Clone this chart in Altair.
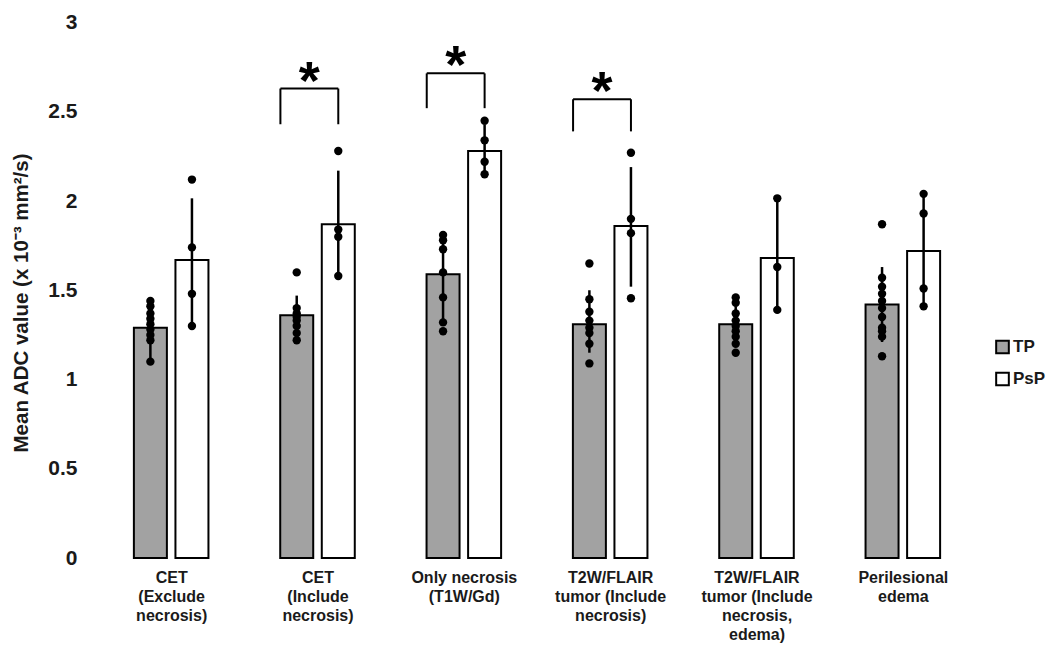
import json
import altair as alt
import pandas as pd

# ---------------- data ----------------
GROUP_LABELS = [
    ["CET", "(Exclude", "necrosis)"],
    ["CET", "(Include", "necrosis)"],
    ["Only necrosis", "(T1W/Gd)"],
    ["T2W/FLAIR", "tumor (Include", "necrosis)"],
    ["T2W/FLAIR", "tumor (Include", "necrosis,", "edema)"],
    ["Perilesional", "edema"],
]
SERIES = ["TP", "PsP"]

TP_MEAN = [1.29, 1.36, 1.59, 1.31, 1.31, 1.42]
PSP_MEAN = [1.67, 1.87, 2.28, 1.86, 1.68, 1.72]

TP_ERR_LO = [1.10, 1.24, 1.30, 1.15, 1.21, 1.21]
TP_ERR_HI = [1.445, 1.47, 1.81, 1.50, 1.41, 1.63]
PSP_ERR_LO = [1.30, 1.58, 2.15, 1.52, 1.39, 1.41]
PSP_ERR_HI = [2.015, 2.17, 2.43, 2.19, 2.015, 2.04]

TP_POINTS = [
    [1.44, 1.41, 1.37, 1.34, 1.31, 1.28, 1.25, 1.22, 1.10],
    [1.60, 1.40, 1.37, 1.35, 1.33, 1.30, 1.26, 1.22],
    [1.81, 1.78, 1.73, 1.60, 1.46, 1.32, 1.27],
    [1.65, 1.45, 1.38, 1.33, 1.29, 1.26, 1.20, 1.09],
    [1.46, 1.43, 1.37, 1.33, 1.30, 1.27, 1.24, 1.20, 1.15],
    [1.87, 1.57, 1.52, 1.48, 1.44, 1.40, 1.35, 1.29, 1.27, 1.24, 1.13],
]
PSP_POINTS = [
    [2.12, 1.74, 1.48, 1.30],
    [2.28, 1.84, 1.80, 1.58],
    [2.45, 2.34, 2.22, 2.15],
    [2.27, 1.90, 1.82, 1.455],
    [2.015, 1.63, 1.39],
    [2.04, 1.93, 1.51, 1.41],
]

SIG_GROUPS = [1, 2, 3]
SIG_TOP = [2.63, 2.715, 2.57]
SIG_LEG = [2.43, 2.52, 2.39]
SIG_TEXT = ["*", "*", "*"]

# ---------------- styles ----------------
OFFSET = {"TP": -0.142, "PsP": 0.142}   # in group-spacing units
BAR_HALF = 0.1115
GRAY = "#a2a2a2"
FONT = "Liberation Sans"

# ---------------- tables ----------------
n = len(GROUP_LABELS)
bars = pd.DataFrame(
    [{"idx": i, "series": "TP", "mean": TP_MEAN[i], "lo": TP_ERR_LO[i], "hi": TP_ERR_HI[i]} for i in range(n)]
    + [{"idx": i, "series": "PsP", "mean": PSP_MEAN[i], "lo": PSP_ERR_LO[i], "hi": PSP_ERR_HI[i]} for i in range(n)]
)
bars["xpos"] = bars["idx"] + bars["series"].map(OFFSET)

pts = pd.DataFrame(
    [{"idx": i, "series": "TP", "value": v} for i in range(n) for v in TP_POINTS[i]]
    + [{"idx": i, "series": "PsP", "value": v} for i in range(n) for v in PSP_POINTS[i]]
)
pts["xpos"] = pts["idx"] + pts["series"].map(OFFSET)

sig = pd.DataFrame({"idx": SIG_GROUPS, "top": SIG_TOP, "leg": SIG_LEG, "txt": SIG_TEXT})
sig["xl"] = sig["idx"] + OFFSET["TP"] - BAR_HALF
sig["xr"] = sig["idx"] + OFFSET["PsP"]
sig["xm"] = (sig["xl"] + sig["xr"]) / 2
legs = pd.concat([
    pd.DataFrame({"x": sig["xl"], "y": sig["leg"], "y2": sig["top"]}),
    pd.DataFrame({"x": sig["xr"], "y": sig["leg"], "y2": sig["top"]}),
])

label_expr = json.dumps(GROUP_LABELS) + "[round(datum.value)]"

xscale = alt.Scale(domain=[-0.5, n - 0.5], nice=False, zero=False)
yscale = alt.Scale(domain=[0, 3], nice=False)

xaxis = alt.Axis(
    values=list(range(n)), labelExpr=label_expr, title=None, domain=False, ticks=False,
    grid=False, labelFont=FONT, labelFontWeight="bold", labelFontSize=16,
    labelLineHeight=19.3, labelPadding=11, labelColor="#1a1a1a", labelBaseline="top",
    labelAngle=0, labelFlush=False, labelOverlap=False,
)
yaxis = alt.Axis(
    values=[0, 0.5, 1, 1.5, 2, 2.5, 3], format="~g", title="Mean ADC value (x 10⁻³ mm²/s)",
    domain=False, ticks=False, grid=False, labelFont=FONT, labelFontWeight="bold",
    labelFontSize=21, labelPadding=16, labelColor="#1a1a1a",
    titleFont=FONT, titleFontWeight="bold", titleFontSize=20.5, titleColor="#1a1a1a",
    titleX=-72, titleY=280, titleBaseline="middle", titleAngle=-90,
)

base_x = alt.X("xpos:Q", scale=xscale, axis=xaxis)

bar_layer = alt.Chart(bars).mark_bar(size=33, stroke="black", strokeWidth=2).encode(
    x=base_x,
    y=alt.Y("mean:Q", scale=yscale, axis=yaxis),
    fill=alt.Fill(
        "series:N",
        scale=alt.Scale(domain=SERIES, range=[GRAY, "white"]),
        legend=alt.Legend(
            title=None, orient="none", legendX=901, legendY=316, symbolType="square",
            symbolSize=160, symbolStrokeColor="black", symbolStrokeWidth=2,
            labelFont=FONT, labelFontWeight="bold", labelFontSize=17, labelColor="#1a1a1a",
            rowPadding=11, labelOffset=2,
        ),
    ),
)

err_layer = alt.Chart(bars).mark_rule(color="black", strokeWidth=2.5).encode(
    x="xpos:Q", y="lo:Q", y2="hi:Q"
)

dot_layer = alt.Chart(pts).mark_circle(size=70, color="black", opacity=1).encode(
    x="xpos:Q", y="value:Q"
)

hline = alt.Chart(sig).mark_rule(color="black", strokeWidth=2).encode(
    x="xl:Q", x2="xr:Q", y="top:Q"
)
vline = alt.Chart(legs).mark_rule(color="black", strokeWidth=2).encode(
    x="x:Q", y="y:Q", y2="y2:Q"
)
stars = alt.Chart(sig).mark_text(
    font=FONT, fontWeight="bold", fontSize=54, baseline="alphabetic", dy=10, color="black"
).encode(x="xm:Q", y="top:Q", text="txt:N")

chart = alt.layer(bar_layer, err_layer, dot_layer, hline, vline, stars).properties(
    width=888, height=535.5,
    autosize=alt.AutoSizeParams(type="none"),
    padding={"left": 85, "top": 14.5, "right": 72, "bottom": 104},
    background="white",
).configure_view(stroke=None)

chart.save("out.html", embed_options={"renderer": "svg", "actions": False})
